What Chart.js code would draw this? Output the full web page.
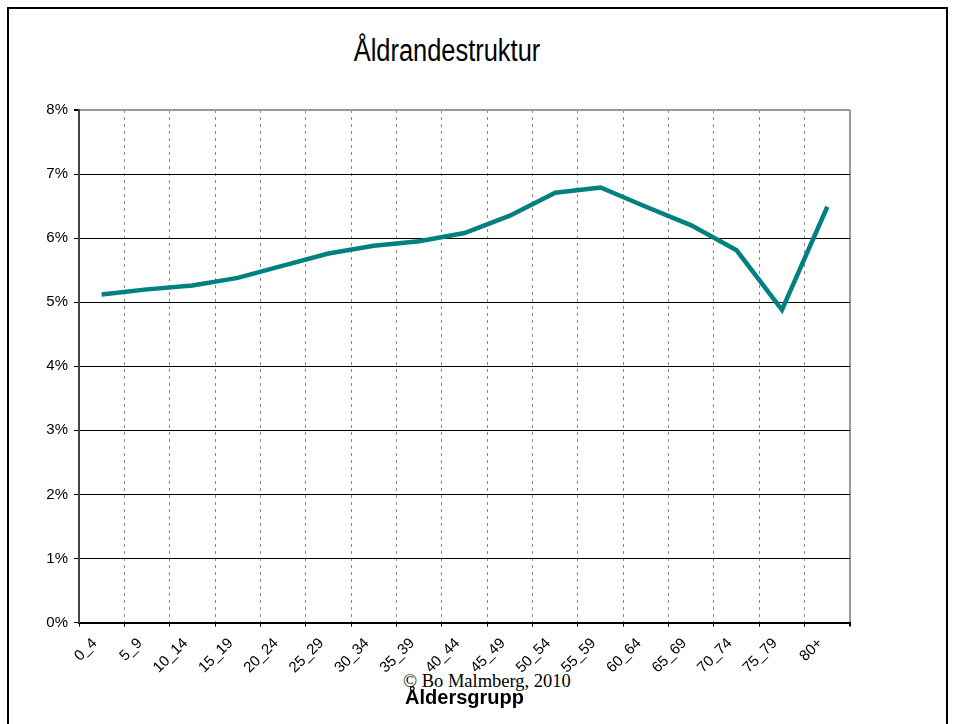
<!DOCTYPE html>
<html>
<head>
<meta charset="utf-8">
<script src="https://cdn.jsdelivr.net/npm/chart.js@4"></script>
<style>
	body { margin: 0; background: #fff; }
	#wrap { position: absolute; left: 0; top: 0; width: 955px; height: 724px; z-index: 1; }
	#frame { position: absolute; left: 7px; top: 7px; width: 941px; height: 760px; box-sizing: border-box; border: 2px solid #000; z-index: 2; pointer-events: none; }
	#title { position: absolute; left: 447px; top: 35px; font: 31px "Liberation Sans", Arial, sans-serif; line-height: 1; color: #000; white-space: nowrap; transform: translateX(-50%) scaleX(0.82); z-index: 1; }
	#copy { position: absolute; left: 403px; top: 672px; font: 18.5px "Liberation Serif", "Times New Roman", serif; line-height: 1; color: #000; z-index: 0; white-space: nowrap; }
</style>
</head>
<body>
<div id="title"></div>
<div id="copy">© Bo Malmberg, 2010</div>
<div id="wrap"><canvas id="ageChart"></canvas></div>
<div id="frame"></div>
<script>
// age groups and share of population (%)
var ageGroups = ['0_4', '5_9', '10_14', '15_19', '20_24', '25_29', '30_34', '35_39', '40_44',
	'45_49', '50_54', '55_59', '60_64', '65_69', '70_74', '75_79', '80+'];
var shares = [5.12, 5.20, 5.26, 5.38, 5.57, 5.76, 5.88, 5.95, 6.08,
	6.35, 6.71, 6.79, 6.49, 6.20, 5.81, 4.88, 6.49];
var chartTitle = 'Åldrandestruktur';
var xTitle = 'Åldersgrupp';

var tickFont = { family: '"Liberation Sans", Arial, sans-serif', size: 15 };

document.getElementById('title').textContent = chartTitle;

function initAgeChart(){
	var ctx = document.getElementById('ageChart');
	return new Chart(ctx, {
		type: 'line',
		data: {
			labels: ageGroups,
			datasets: [{
				data: shares,
				borderColor: '#008080',
				borderWidth: 4.5,
				pointRadius: 0,
				tension: 0,
				fill: false
			}]
		},
		options: {
			responsive: true,
			maintainAspectRatio: false,
			animation: false,
			layout: { padding: { left: 0, right: 105, top: 110, bottom: 0 } },
			plugins: {
				legend: { display: false },
				tooltip: { enabled: false }
			},
			scales: {
				x: {
					offset: true,
					grid: {
						offset: true,
						color: function(c){ return c.index === undefined ? '#999' : '#888'; },
						lineWidth: function(c){ return c.index === undefined ? 2 : 1; },
						tickLength: 4,
						tickColor: '#000'
					},
					border: {
						color: '#000',
						width: 2,
						dash: function(c){ return c.index === undefined ? [] : [3, 4]; }
					},
					ticks: {
						color: '#000',
						font: tickFont,
						maxRotation: 45,
						minRotation: 45,
						autoSkip: false,
						padding: 8,
						labelOffset: -7
					},
					title: {
						display: true,
						text: xTitle,
						color: '#000',
						font: { family: '"Liberation Sans", Arial, sans-serif', size: 20, weight: 'bold' },
						padding: { top: 0, bottom: 14 }
					},
					afterFit: function(s){ s.height = 101.5; }
				},
				y: {
					min: 0,
					max: 8,
					grid: {
						color: function(c){ return c.tick && c.tick.value === 8 ? '#999' : '#000'; },
						lineWidth: function(c){ return c.tick && c.tick.value === 8 ? 2 : 1; },
						tickLength: 5,
						tickColor: '#000'
					},
					border: { color: '#444', width: 2 },
					ticks: {
						stepSize: 1,
						color: '#000',
						font: tickFont,
						padding: 6,
						callback: function(v){ return v + '%'; }
					},
					afterFit: function(s){ s.width = 79; }
				}
			}
		}
	});
}

initAgeChart();
</script>
</body>
</html>
